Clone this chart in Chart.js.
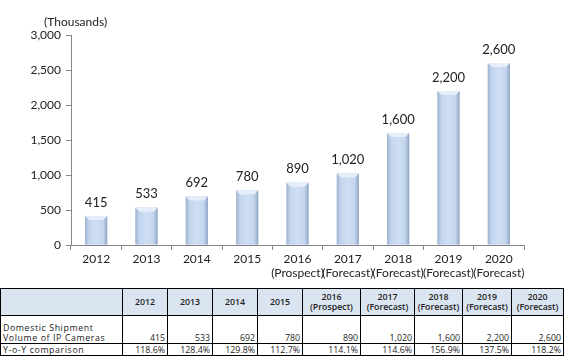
<!DOCTYPE html>
<html>
<head>
<meta charset="utf-8">
<script src="https://cdn.jsdelivr.net/npm/chart.js@4.4.0/dist/chart.umd.min.js"></script>
<style>
  html, body { margin: 0; padding: 0; background: #fff; }
  #wrap { position: relative; width: 568px; height: 358px; overflow: hidden; }
  #cv { position: absolute; left: 0; top: 0; }
  #unit { position: absolute; left: 44px; top: 14px; font: 12px Lato, "DejaVu Sans", sans-serif; color: #222; }
  table { position: absolute; left: 0; top: 288px; border-collapse: collapse; table-layout: fixed;
          font-family: "Open Sans", "Liberation Sans", sans-serif; font-size: 8.8px; color: #222; }
  td { border: 1px solid #000; padding: 0 2px; line-height: 10px; overflow: hidden; white-space: nowrap; }
  tr.h td { background: #dbe5f1; text-align: center; vertical-align: middle; font-weight: 600; height: 26px; }
  tr.v td { height: 27px; vertical-align: bottom; text-align: right; }
  tr.y td { height: 11px; text-align: right; }
  td.lab { text-align: left !important; letter-spacing: 0.6px; }
</style>
</head>
<body>
<div id="wrap">
  <canvas id="cv" width="568" height="285"></canvas>
  <div id="unit">(Thousands)</div>
  <table id="tbl"></table>
</div>
<script>
const categories = [["2012"],["2013"],["2014"],["2015"],["2016","(Prospect)"],["2017","(Forecast)"],["2018","(Forecast)"],["2019","(Forecast)"],["2020","(Forecast)"]];
const tableHeaders = [["2012"],["2013"],["2014"],["2015"],["2016","(Prospect)"],["2017","(Forecast)"],["2018","(Forecast)"],["2019","(Forecast)"],["2020","(Forecast)"]];
const shipments = [415, 533, 692, 780, 890, 1020, 1600, 2200, 2600];
const yoy = ["118.6%","128.4%","129.8%","112.7%","114.1%","114.6%","156.9%","137.5%","118.2%"];
const yTicks = [0, 500, 1000, 1500, 2000, 2500, 3000];
const colWidths = [122, 45, 45, 45, 45, 58, 54, 48, 49, 52];

const fmt = v => v.toLocaleString('en-US');

// table
const tbl = document.getElementById('tbl');
let cg = '<colgroup>' + colWidths.map(w => `<col style="width:${w}px">`).join('') + '</colgroup>';
let h = '<tr class="h"><td></td>' + tableHeaders.map(a => `<td>${a.join('<br>')}</td>`).join('') + '</tr>';
let v = '<tr class="v"><td class="lab">Domestic Shipment<br>Volume of IP Cameras</td>' + shipments.map(x => `<td>${fmt(x)}</td>`).join('') + '</tr>';
let y = '<tr class="y"><td class="lab">Y-o-Y comparison</td>' + yoy.map(x => `<td>${x}</td>`).join('') + '</tr>';
tbl.innerHTML = cg + h + v + y;

const valueLabels = {
  id: 'valueLabels',
  afterDatasetsDraw(chart) {
    const ctx = chart.ctx;
    const meta = chart.getDatasetMeta(0);
    ctx.save();
    ctx.font = '13px Lato, "DejaVu Sans", sans-serif';
    ctx.fillStyle = '#222';
    ctx.textAlign = 'center';
    ctx.textBaseline = 'bottom';
    meta.data.forEach((el, i) => {
      ctx.fillText(fmt(shipments[i]), el.x, el.y - 7);
    });
    ctx.restore();
  }
};

const bevel = {
  id: 'bevel',
  afterDatasetsDraw(chart) {
    const ctx = chart.ctx;
    const meta = chart.getDatasetMeta(0);
    ctx.save();
    meta.data.forEach(el => {
      const l = el.x - el.width / 2, r = el.x + el.width / 2, t = el.y, b = el.base;
      const g = ctx.createLinearGradient(l, 0, r, 0);
      g.addColorStop(0, '#9fb3cf');
      g.addColorStop(0.18, '#c3d5ee');
      g.addColorStop(0.5, '#cfdef3');
      g.addColorStop(0.82, '#c3d5ee');
      g.addColorStop(1, '#8fa4c2');
      ctx.fillStyle = g;
      ctx.fillRect(l, t, r - l, b - t);
      ctx.fillStyle = '#e6eefa';
      ctx.beginPath();
      ctx.moveTo(l, t); ctx.lineTo(r, t); ctx.lineTo(r - 4, t + 4); ctx.lineTo(l + 4, t + 4); ctx.closePath();
      ctx.fill();
    });
    ctx.restore();
  }
};

new Chart(document.getElementById('cv'), {
  type: 'bar',
  data: {
    labels: categories,
    datasets: [{
      data: shipments,
      backgroundColor: '#c6d8ef',
      borderWidth: 0,
      barPercentage: 0.88,
      categoryPercentage: 0.5
    }]
  },
  options: {
    responsive: false,
    animation: false,
    layout: { padding: { left: 0, right: 44, top: 35, bottom: 0 } },
    plugins: { legend: { display: false }, tooltip: { enabled: false } },
    scales: {
      x: {
        grid: { offset: true, drawOnChartArea: false, drawTicks: true, tickLength: 5, color: '#868686' },
        border: { color: '#868686', width: 1 },
        ticks: { color: '#222', font: { family: 'Lato, "DejaVu Sans", sans-serif', size: 12 }, padding: 2, maxRotation: 0, autoSkip: false },
        afterFit(s) { s.height = 40; }
      },
      y: {
        min: 0, max: 3000,
        afterBuildTicks(s) { s.ticks = yTicks.map(v => ({ value: v })); },
        grid: { drawOnChartArea: false, drawTicks: true, tickLength: 5, color: '#868686' },
        border: { color: '#868686', width: 1 },
        ticks: { color: '#222', font: { family: 'Lato, "DejaVu Sans", sans-serif', size: 12 }, padding: 5, callback: v => fmt(v) },
        afterFit(s) { s.width = 71; }
      }
    }
  },
  plugins: [bevel, valueLabels]
});
</script>
</body>
</html>
